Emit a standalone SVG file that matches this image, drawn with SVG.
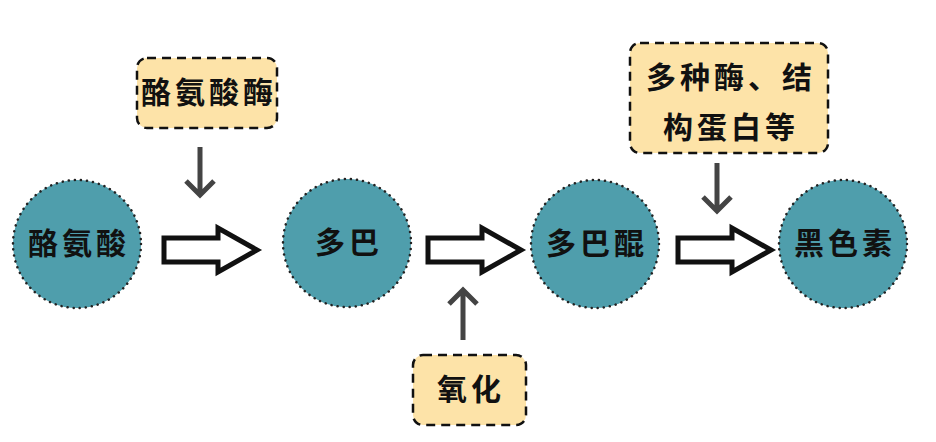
<svg xmlns="http://www.w3.org/2000/svg" width="936" height="442" viewBox="0 0 936 442">
<defs>
<style>
.c{fill:#4f9eac;stroke:#222;stroke-width:2.5;stroke-dasharray:0.1 6;stroke-linecap:round}
.b{fill:#fde3a8;stroke:#111;stroke-width:2.5;stroke-dasharray:9 6}
.t{font-family:"Noto Sans CJK SC","Noto Sans CJK JP",sans-serif;font-weight:bold;font-size:30px;fill:#111;text-anchor:middle;letter-spacing:4px}
.h{fill:#fff;stroke:#111;stroke-width:5;stroke-linejoin:miter}
.s{fill:none;stroke:#444;stroke-width:5}
</style>
</defs>
<rect width="936" height="442" fill="#fff"/>
<g id="n1"><circle class="c" cx="77" cy="244" r="64"/><text class="t" x="79" y="254">酪氨酸</text></g>
<g id="n2"><circle class="c" cx="347" cy="243" r="64"/><text class="t" x="349" y="253">多巴</text></g>
<g id="n3"><circle class="c" cx="595" cy="244" r="64"/><text class="t" x="597" y="254">多巴醌</text></g>
<g id="n4"><circle class="c" cx="843" cy="244" r="64"/><text class="t" x="845" y="254">黑色素</text></g>
<g id="e1"><rect class="b" x="137" y="58" width="140" height="70" rx="10"/><text class="t" x="209" y="103">酪氨酸酶</text></g>
<g id="e2"><rect class="b" x="630" y="43" width="198" height="110" rx="10"/><text class="t" x="731" y="88">多种酶、结</text><text class="t" x="731" y="138">构蛋白等</text></g>
<g id="e3"><rect class="b" x="413" y="355" width="113" height="70" rx="10"/><text class="t" x="471" y="400">氧化</text></g>
<g id="connectors">
<path class="h" d="M164,238 H218 V228 L257,250 L218,272 V262 H164 Z"/>
<path class="h" d="M428,238 H482 V228 L521,250 L482,272 V262 H428 Z"/>
<path class="h" d="M678,238 H732 V228 L771,250 L732,272 V262 H678 Z"/>
<path class="s" d="M200,147 V195 M186,181 L200,195 L214,181"/>
<path class="s" d="M717,163 V211 M703,197 L717,211 L731,197"/>
<path class="s" d="M463,340 V290 M449,304 L463,290 L477,304"/>
</g>
</svg>
